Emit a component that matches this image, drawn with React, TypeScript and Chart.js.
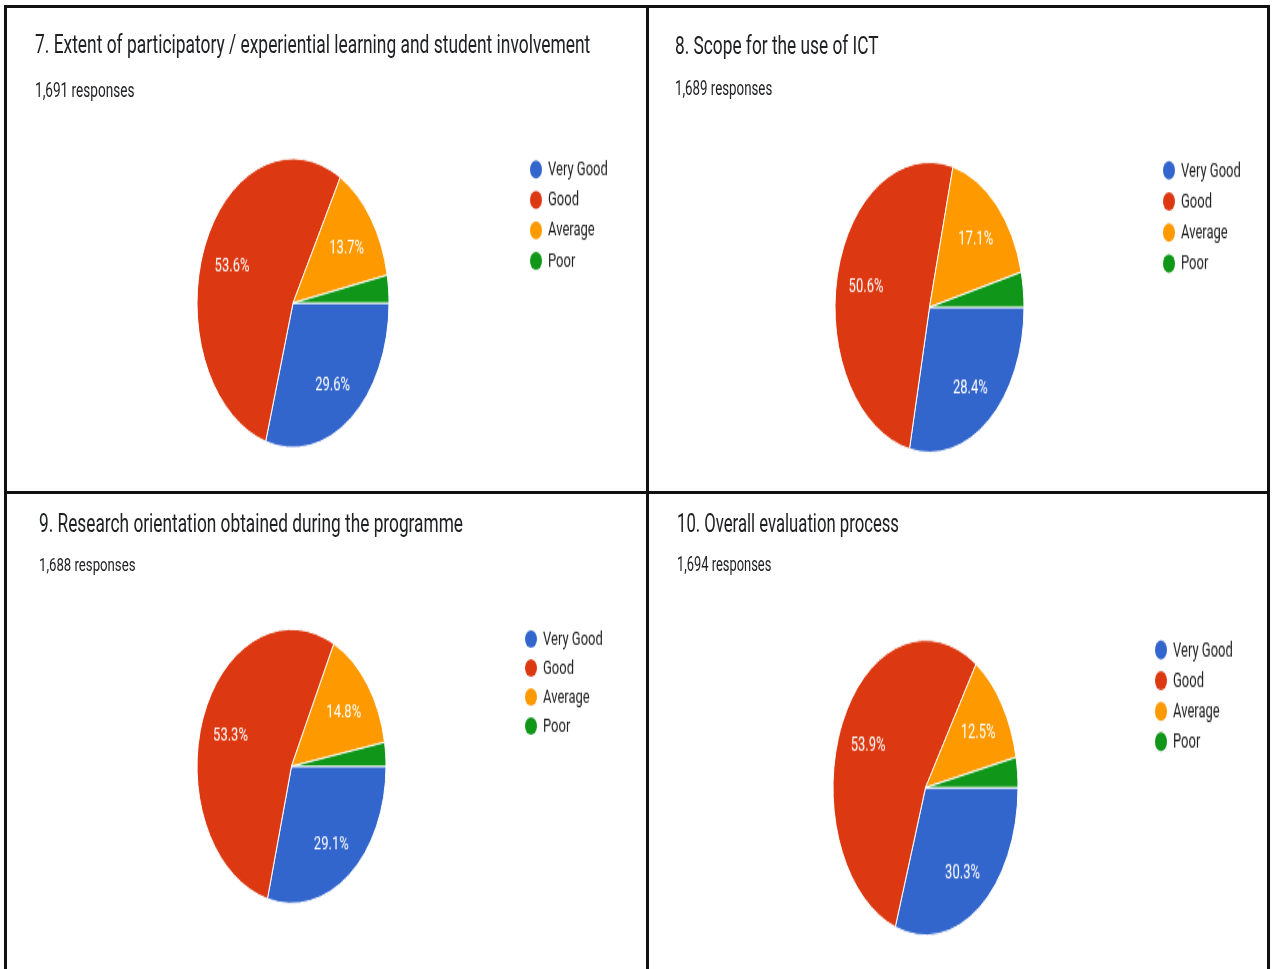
import React, { useEffect, useRef } from 'react';
import { Chart, registerables } from 'chart.js';

Chart.register(...registerables);

// ---- data ----
const categories = ['Very Good', 'Good', 'Average', 'Poor'];
const sliceColors = ['#3366cc', '#dc3912', '#ff9900', '#109618'];
const titles = [
  '7. Extent of participatory / experiential learning and student involvement',
  '8. Scope for the use of ICT',
  '9. Research orientation obtained during the programme',
  '10. Overall evaluation process',
];
const responseCounts = ['1,691 responses', '1,689 responses', '1,688 responses', '1,694 responses'];
const q7 = [29.6, 53.6, 13.7, 3.1];
const q8 = [28.4, 50.6, 17.1, 3.9];
const q9 = [29.1, 53.3, 14.8, 2.8];
const q10 = [30.3, 53.9, 12.5, 3.3];
const seriesList = [q7, q8, q9, q10];

// ---- layout (page pixels) ----
const panels = [
  { left: 7, top: 8, w: 639, h: 483, s: 1.505, tx: 35, tBase: 54.5, tSize: 17.4, rBase: 98, rSize: 13.6, cx: 293, cy: 303, r: 96, lx: 530, ly: 169.5, lStep: 30.4 },
  { left: 650, top: 8, w: 617, h: 483, s: 1.535, tx: 675, tBase: 55, tSize: 17.3, rBase: 96.5, rSize: 13.3, cx: 929.5, cy: 307, r: 94.5, lx: 1163, ly: 170.5, lStep: 31 },
  { left: 7, top: 494, w: 639, h: 475, s: 1.45, tx: 39, tBase: 533, tSize: 17.3, rBase: 571, rSize: 13.2, cx: 291.5, cy: 766, r: 94.5, lx: 525, ly: 639, lStep: 29 },
  { left: 650, top: 494, w: 617, h: 475, s: 1.595, tx: 677, tBase: 533.5, tSize: 16.7, rBase: 572, rSize: 12.9, cx: 925.5, cy: 787.5, r: 92.5, lx: 1155, ly: 650, lStep: 30.6 },
];

const FONT = 'Roboto, "Noto Sans", Arial, sans-serif';

function Panel({ idx }: { idx: number }) {
  const ref = useRef<HTMLCanvasElement | null>(null);
  const p = panels[idx];
  const H = p.h / p.s;
  const cxRel = p.cx - p.left;
  const cyRel = (p.cy - p.top) / p.s;

  useEffect(() => {
    if (!ref.current) return;
    const values = seriesList[idx];
    const legendX = p.lx - p.left;
    const legendY = (p.ly - p.top) / p.s;
    const legendStep = p.lStep / p.s;

    const sliceLabels = {
      id: 'sliceLabels',
      afterDatasetsDraw(chart: any) {
        const ctx = chart.ctx;
        const meta = chart.getDatasetMeta(0);
        const data = chart.data.datasets[0].data as number[];
        ctx.save();
        ctx.fillStyle = '#ffffff';
        ctx.font = `13px ${FONT}`;
        ctx.textAlign = 'center';
        ctx.textBaseline = 'middle';
        meta.data.forEach((arc: any, i: number) => {
          const v = data[i];
          if (v < 5) return;
          const { x, y, startAngle, endAngle, outerRadius } = arc.getProps(
            ['x', 'y', 'startAngle', 'endAngle', 'outerRadius'],
            true
          );
          const a = (startAngle + endAngle) / 2;
          const d = outerRadius * 0.69;
          ctx.fillText(v.toFixed(1) + '%', x + Math.cos(a) * d, y + Math.sin(a) * d + 2);
        });
        ctx.restore();
      },
    };

    const sideLegend = {
      id: 'sideLegend',
      afterDraw(chart: any) {
        const ctx = chart.ctx;
        const labels = chart.data.labels as string[];
        const bg = chart.data.datasets[0].backgroundColor as string[];
        ctx.save();
        ctx.font = `13px ${FONT}`;
        ctx.textBaseline = 'middle';
        ctx.textAlign = 'left';
        labels.forEach((lab, i) => {
          const y = legendY + i * legendStep;
          ctx.beginPath();
          ctx.fillStyle = bg[i];
          ctx.arc(legendX + 6, y, 6, 0, Math.PI * 2);
          ctx.fill();
          ctx.fillStyle = '#222222';
          ctx.fillText(lab, legendX + 18, y + 0.5);
        });
        ctx.restore();
      },
    };

    const chart = new Chart(ref.current, {
      type: 'pie',
      data: {
        labels: categories,
        datasets: [
          {
            data: values,
            backgroundColor: sliceColors,
            borderColor: '#ffffff',
            borderWidth: 1,
            hoverOffset: 0,
            offset: 0,
            radius: p.r,
          } as any,
        ],
      },
      options: {
        responsive: false,
        animation: false,
        devicePixelRatio: 1,
        rotation: 90,
        layout: {
          padding: {
            left: cxRel - p.r,
            right: p.w - cxRel - p.r,
            top: cyRel - p.r,
            bottom: H - cyRel - p.r,
          },
        },
        plugins: {
          legend: { display: false },
          tooltip: { enabled: false },
          title: { display: false },
        },
        events: [],
      } as any,
      plugins: [sliceLabels, sideLegend],
    });
    return () => chart.destroy();
  }, [idx]);

  const tTop = (p.tBase - p.top) / p.s - 0.842 * p.tSize;
  const rTop = (p.rBase - p.top) / p.s - 0.842 * p.rSize;

  return (
    <div
      style={{
        position: 'absolute',
        left: p.left,
        top: p.top,
        width: p.w,
        height: H,
        transform: `scaleY(${p.s})`,
        transformOrigin: '0 0',
        background: '#ffffff',
        overflow: 'hidden',
      }}
    >
      <canvas ref={ref} width={p.w} height={Math.round(H)} style={{ position: 'absolute', left: 0, top: 0 }} />
      <div
        style={{
          position: 'absolute',
          left: p.tx - p.left,
          top: tTop,
          fontFamily: FONT,
          fontSize: p.tSize,
          lineHeight: `${p.tSize}px`,
          color: '#202124',
          whiteSpace: 'nowrap',
        }}
      >
        {titles[idx]}
      </div>
      <div
        style={{
          position: 'absolute',
          left: p.tx - p.left,
          top: rTop,
          fontFamily: FONT,
          fontSize: p.rSize,
          lineHeight: `${p.rSize}px`,
          color: '#202124',
          whiteSpace: 'nowrap',
        }}
      >
        {responseCounts[idx]}
      </div>
    </div>
  );
}

export default function App() {
  const line = (l: number, t: number, w: number, h: number) => (
    <div style={{ position: 'absolute', left: l, top: t, width: w, height: h, background: '#111111' }} />
  );
  return (
    <div
      style={{
        position: 'absolute',
        left: 0,
        top: 0,
        width: 1273,
        height: 969,
        background: '#ffffff',
        overflow: 'hidden',
      }}
    >
      {[0, 1, 2, 3].map((i) => (
        <Panel key={i} idx={i} />
      ))}
      {line(4, 5, 1266, 3)}
      {line(4, 5, 3, 964)}
      {line(1267, 5, 3, 964)}
      {line(646, 5, 3, 964)}
      {line(4, 491, 1266, 3)}
    </div>
  );
}
